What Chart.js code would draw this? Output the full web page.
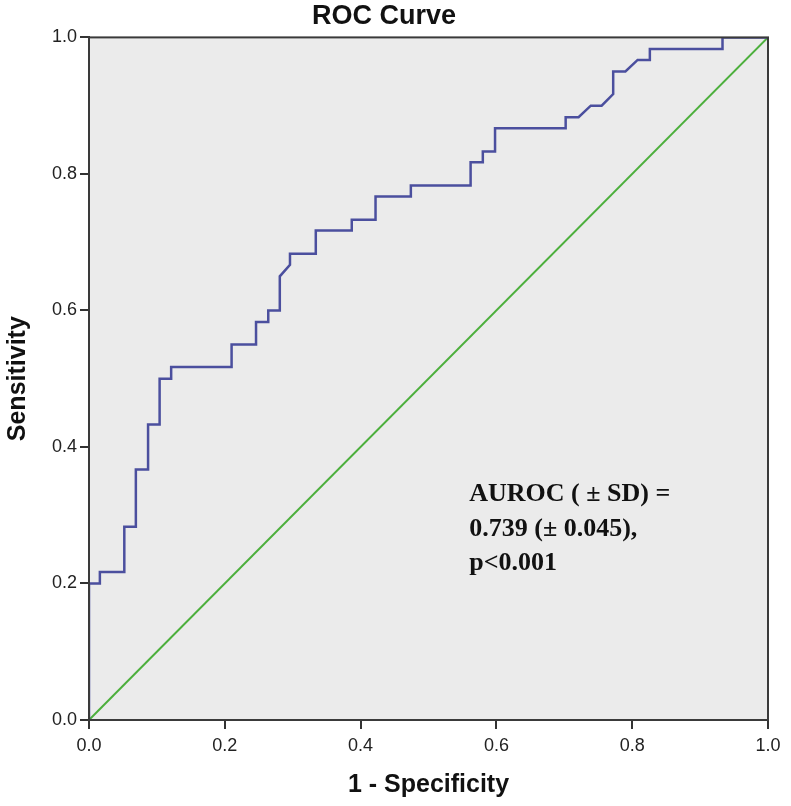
<!DOCTYPE html>
<html>
<head>
<meta charset="utf-8">
<script src="https://cdn.jsdelivr.net/npm/chart.js@4.4.1/dist/chart.umd.min.js"></script>
<style>
  html, body { margin: 0; padding: 0; background: #fff; }
  #wrap { width: 791px; height: 806px; }
</style>
</head>
<body>
<div id="wrap"><canvas id="rocChart" width="791" height="806"></canvas></div>
<script>
// ROC curve points (1 - specificity, sensitivity)
const fpr = [0, 0, 0.016, 0.016, 0.052, 0.052, 0.069, 0.069, 0.087, 0.087, 0.104, 0.104,
    0.121, 0.121, 0.21, 0.21, 0.246, 0.246, 0.264, 0.264, 0.281, 0.281, 0.296, 0.296,
    0.334, 0.334, 0.387, 0.387, 0.422, 0.422, 0.474, 0.474, 0.562, 0.562, 0.58, 0.58,
    0.598, 0.598, 0.702, 0.702, 0.721, 0.739, 0.755, 0.772, 0.772, 0.79, 0.808, 0.826,
    0.826, 0.933, 0.933, 1.0];
const tpr = [0, 0.2, 0.2, 0.217, 0.217, 0.283, 0.283, 0.367, 0.367, 0.433, 0.433, 0.5,
    0.5, 0.517, 0.517, 0.55, 0.55, 0.583, 0.583, 0.6, 0.6, 0.65, 0.667, 0.683,
    0.683, 0.717, 0.717, 0.733, 0.733, 0.767, 0.767, 0.783, 0.783, 0.817, 0.817, 0.833,
    0.833, 0.867, 0.867, 0.883, 0.883, 0.9, 0.9, 0.917, 0.95, 0.95, 0.967, 0.967,
    0.983, 0.983, 1.0, 1.0];

// reference line
const refX = [0, 1];
const refY = [0, 1];

const tickValues = [0, 0.2, 0.4, 0.6, 0.8, 1.0];

// annotation text, anchored in data units
const annoLines = ['AUROC ( \u00B1 SD) =', '0.739 (\u00B1 0.045),', 'p<0.001'];
const annoX = 0.56;
const annoY = [0.330, 0.280, 0.230];

const toPoints = (xs, ys) => xs.map((x, i) => ({x: x, y: ys[i]}));

const plotBg = {
    id: 'plotBg',
    beforeDraw(chart) {
        const {ctx, chartArea: a} = chart;
        ctx.save();
        ctx.fillStyle = '#ebebeb';
        ctx.fillRect(a.left, a.top, a.right - a.left, a.bottom - a.top);
        ctx.restore();
    },
    afterDraw(chart) {
        const {ctx, chartArea: a, scales} = chart;
        ctx.save();
        ctx.strokeStyle = '#3a3a3a';
        ctx.lineWidth = 2;
        ctx.strokeRect(a.left, a.top, a.right - a.left, a.bottom - a.top);
        // annotation
        ctx.fillStyle = '#111';
        ctx.font = 'bold 26px "Liberation Serif", "Times New Roman", serif';
        ctx.textBaseline = 'middle';
        ctx.textAlign = 'left';
        annoLines.forEach((t, i) => {
            ctx.fillText(t, scales.x.getPixelForValue(annoX), scales.y.getPixelForValue(annoY[i]));
        });
        ctx.restore();
    }
};

const tickFont = {family: '"Liberation Sans", Arial, sans-serif', size: 18};
const titleFont = {family: '"Liberation Sans", Arial, sans-serif', size: 25, weight: 'bold'};

const chart = new Chart(document.getElementById('rocChart'), {
    type: 'scatter',
    data: {
        datasets: [{
            label: 'ROC',
            data: toPoints(fpr, tpr),
            showLine: true,
            borderColor: '#4b4f9e',
            borderWidth: 2.5,
            pointRadius: 0,
            tension: 0,
            fill: false
        }, {
            label: 'Reference',
            data: toPoints(refX, refY),
            showLine: true,
            borderColor: '#4caf3c',
            borderWidth: 2,
            pointRadius: 0,
            fill: false
        }]
    },
    options: {
        responsive: false,
        animation: false,
        layout: {padding: {left: 0, right: 23, top: 0, bottom: 0}},
        plugins: {
            legend: {display: false},
            tooltip: {enabled: false},
            title: {
                display: true,
                text: 'ROC Curve',
                color: '#111',
                font: {family: '"Liberation Sans", Arial, sans-serif', size: 27, weight: 'bold'},
                padding: {top: 0, bottom: 5}
            }
        },
        scales: {
            x: {
                type: 'linear',
                min: 0,
                max: 1,
                afterBuildTicks: (s) => { s.ticks = tickValues.map(v => ({value: v})); },
                afterFit: (s) => { s.height = 86; },
                ticks: {
                    color: '#222',
                    font: tickFont,
                    padding: 6,
                    maxRotation: 0,
                    callback: (v) => v.toFixed(1)
                },
                grid: {drawOnChartArea: false, drawTicks: true, tickLength: 9, color: '#333', lineWidth: 2},
                border: {display: true, color: '#333', width: 2},
                title: {display: true, text: '1 - Specificity', color: '#111', font: titleFont, padding: {top: 0, bottom: 6}}
            },
            y: {
                type: 'linear',
                min: 0,
                max: 1,
                afterBuildTicks: (s) => { s.ticks = tickValues.map(v => ({value: v})); },
                afterFit: (s) => { s.width = 89; },
                ticks: {
                    color: '#222',
                    font: tickFont,
                    padding: 3,
                    callback: (v) => v.toFixed(1)
                },
                grid: {drawOnChartArea: false, drawTicks: true, tickLength: 9, color: '#333', lineWidth: 2},
                border: {display: true, color: '#333', width: 2},
                title: {display: true, text: 'Sensitivity', color: '#111', font: titleFont, padding: {top: 3, bottom: 0}}
            }
        }
    },
    plugins: [plotBg]
});
</script>
</body>
</html>
